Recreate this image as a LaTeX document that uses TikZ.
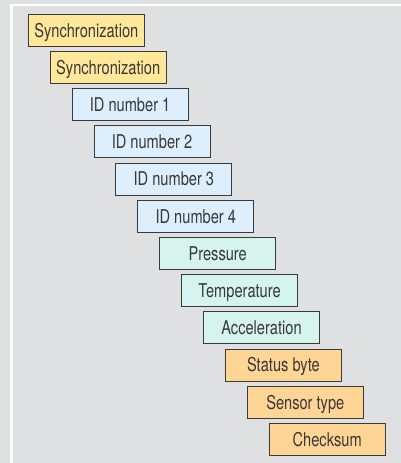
\documentclass[tikz,border=0pt]{standalone}
\usepackage{fontspec}
\setmainfont[FakeStretch=0.77]{TeX Gyre Heros}
\definecolor{bg}{HTML}{DFE0E2}
\definecolor{cyel}{HTML}{FFE89A}
\definecolor{cblu}{HTML}{DDEFFC}
\definecolor{cmnt}{HTML}{D5F4EE}
\definecolor{corg}{HTML}{FFD596}
\definecolor{cline}{HTML}{3A3A3A}
\definecolor{ctext}{HTML}{383838}
\begin{document}
\begin{tikzpicture}[x=1pt,y=1pt,
  field/.style={draw=cline, line width=1pt, minimum width=116pt, minimum height=32pt,
    inner sep=0pt, text height=13.6pt, text depth=0pt, text=ctext,
    font=\fontsize{19}{20}\selectfont},
  fyel/.style={field, fill=cyel},
  fblu/.style={field, fill=cblu},
  fmnt/.style={field, fill=cmnt},
  forg/.style={field, fill=corg}]
\fill[bg] (0,0) rectangle (401,-463);
\useasboundingbox (0,0) rectangle (401,-463);
\fill[white] (10.3,-4.3) rectangle (401,-6.3);
\fill[white] (10.3,-4.3) rectangle (12.7,-463);
\def\cx#1{86.3+21.9*#1}
\def\cy#1{-30.3-37.2*#1}
\node[fyel] (n1)  at ({\cx{0}},{\cy{0}}) {Synchronization};
\node[fyel] (n2)  at ({\cx{1}},{\cy{1}}) {Synchronization};
\node[fblu] (n3)  at ({\cx{2}},{\cy{2}}) {ID number 1};
\node[fblu] (n4)  at ({\cx{3}},{\cy{3}}) {ID number 2};
\node[fblu] (n5)  at ({\cx{4}},{\cy{4}}) {ID number 3};
\node[fblu] (n6)  at ({\cx{5}},{\cy{5}}) {ID number 4};
\node[fmnt] (n7)  at ({\cx{6}},{\cy{6}}) {Pressure};
\node[fmnt] (n8)  at ({\cx{7}},{\cy{7}}) {Temperature};
\node[fmnt] (n9)  at ({\cx{8}},{\cy{8}}) {Acceleration};
\node[forg] (n10) at ({\cx{9}},{\cy{9}}) {Status byte};
\node[forg] (n11) at ({\cx{10}},{\cy{10}}) {Sensor type};
\node[forg] (n12) at ({\cx{11}},{\cy{11}}) {Checksum};
\end{tikzpicture}
\end{document}
